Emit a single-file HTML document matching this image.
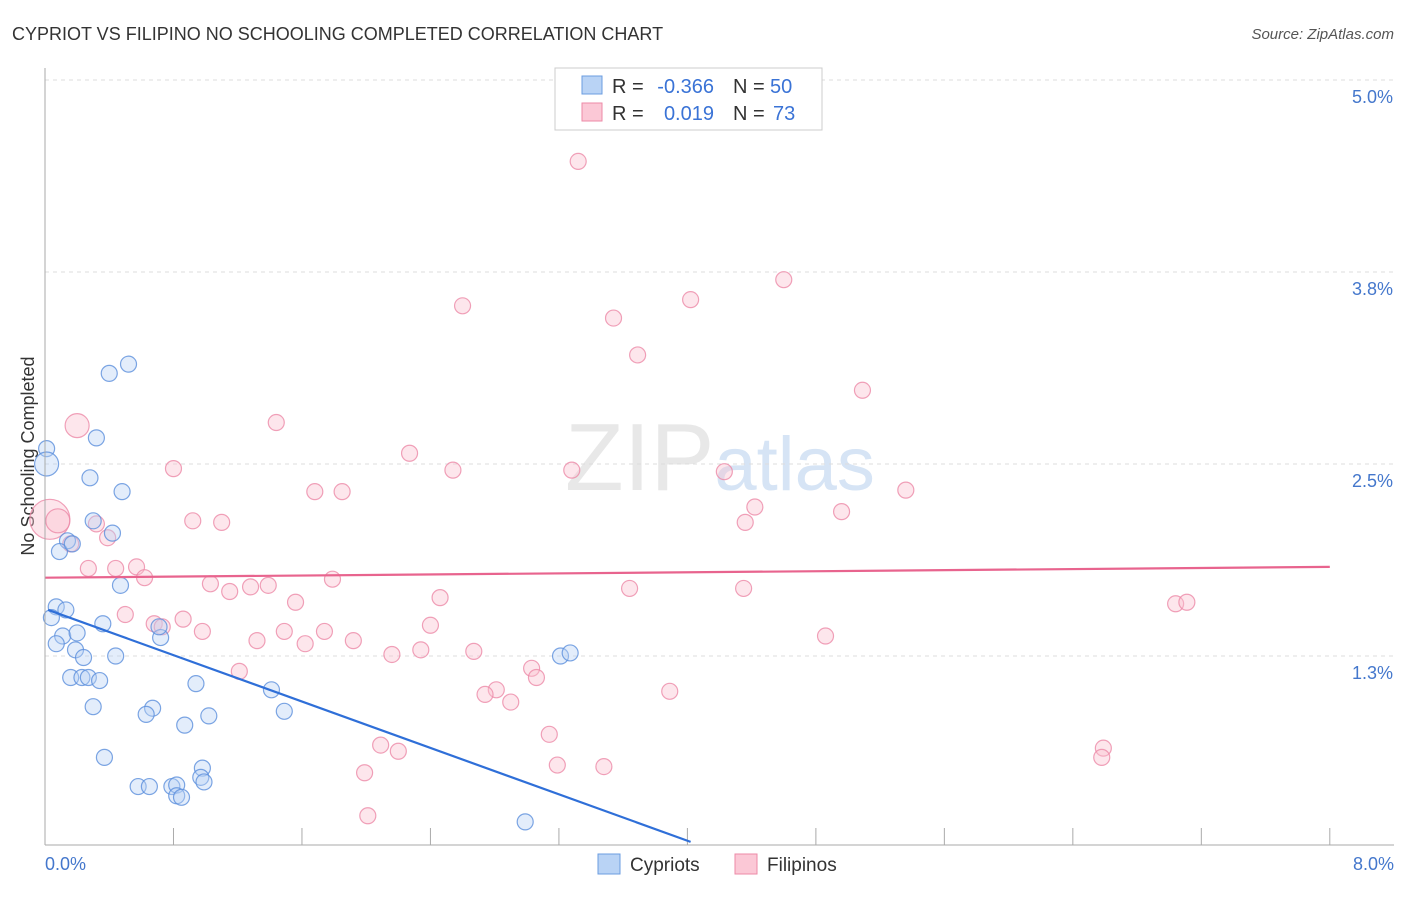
<!DOCTYPE html>
<html><head><meta charset="utf-8"><style>
body{margin:0;background:#fff;font-family:"Liberation Sans",sans-serif;}
svg text{font-family:"Liberation Sans",sans-serif;}
</style></head><body>
<svg id="chart" width="1406" height="892">
<text x="12" y="40" font-size="18" fill="#333">CYPRIOT VS FILIPINO NO SCHOOLING COMPLETED CORRELATION CHART</text>
<text x="1394" y="39" font-size="15" fill="#555" text-anchor="end" font-style="italic">Source: ZipAtlas.com</text>
<text x="34" y="456" font-size="18" fill="#333" text-anchor="middle" transform="rotate(-90 34 456)">No Schooling Completed</text>
<text x="720" y="490" font-size="96" fill="#e8e8e8" text-anchor="middle" font-family="Liberation Serif">ZIP<tspan fill="#d6e4f5" font-family="Liberation Sans" font-size="76">atlas</tspan></text>
<g id="grid"></g><g id="pts"></g><g id="lines"></g>
<line x1="45" y1="68" x2="45" y2="845" stroke="#aaa"/>
<line x1="45" y1="845" x2="1394" y2="845" stroke="#aaa"/>
<text x="45" y="870" font-size="18" fill="#4477cc">0.0%</text>
<text x="1394" y="870" font-size="18" fill="#4477cc" text-anchor="end">8.0%</text>
<g font-size="20">
<rect x="555" y="68" width="267" height="62" fill="#fff" stroke="#ccc"/>
<rect x="582" y="76" width="20" height="18" fill="#b9d3f5" stroke="#6b9de0"/>
<rect x="582" y="103" width="20" height="18" fill="#fbc8d6" stroke="#ec8aa7"/>
<text x="612" y="93" fill="#333">R =</text>
<text x="714" y="93" fill="#3a73d6" text-anchor="end">-0.366</text>
<text x="733" y="93" fill="#333">N =</text>
<text x="770" y="93" fill="#3a73d6">50</text>
<text x="612" y="120" fill="#333">R =</text>
<text x="714" y="120" fill="#3a73d6" text-anchor="end">0.019</text>
<text x="733" y="120" fill="#333">N =</text>
<text x="773" y="120" fill="#3a73d6">73</text>
</g>
<g>
<rect x="598" y="854" width="22" height="20" fill="#b9d3f5" stroke="#6b9de0"/>
<text x="630" y="871" font-size="19" fill="#333">Cypriots</text>
<rect x="735" y="854" width="22" height="20" fill="#fbc8d6" stroke="#ec8aa7"/>
<text x="767" y="871" font-size="19" fill="#333">Filipinos</text>
</g>
</svg>
<script>
const yTicks=[5.0,3.75,2.5,1.25];
const yTickLabels=["5.0%","3.8%","2.5%","1.3%"];
const cyX=[0.01,0.01,0.40,0.52,0.32,0.28,0.48,0.30,0.42,0.14,0.09,0.17,0.47,0.07,0.13,0.04,0.11,0.20,0.07,0.36,0.19,0.24,0.44,0.16,0.23,0.27,0.34,0.94,1.41,0.30,0.67,0.63,1.02,0.87,1.49,0.37,0.98,0.97,0.58,0.65,0.79,0.82,0.99,0.82,0.85,0.72,0.71,3.21,3.27,2.99];
const cyY=[2.60,2.50,3.09,3.15,2.67,2.41,2.32,2.13,2.05,2.00,1.93,1.98,1.71,1.57,1.55,1.50,1.38,1.40,1.33,1.46,1.29,1.24,1.25,1.11,1.11,1.11,1.09,1.07,1.03,0.92,0.91,0.87,0.86,0.80,0.89,0.59,0.52,0.46,0.40,0.40,0.40,0.41,0.43,0.34,0.33,1.37,1.44,1.25,1.27,0.17];
const cySize=[8,12,8,8,8,8,8,8,8,8,8,8,8,8,8,8,8,8,8,8,8,8,8,8,8,8,8,8,8,8,8,8,8,8,8,8,8,8,8,8,8,8,8,8,8,8,8,8,8,8];
const fiX=[3.32,4.60,4.02,2.60,3.54,3.69,5.09,1.44,0.20,2.27,0.80,2.54,3.28,4.23,1.68,1.85,5.36,4.42,4.96,4.36,0.92,1.10,0.32,0.03,0.08,0.39,0.16,0.27,0.57,0.44,0.62,1.79,1.03,1.15,1.28,1.39,3.64,4.35,2.46,1.56,7.04,7.11,0.50,0.86,0.68,0.73,0.98,1.49,1.74,2.40,1.32,1.62,1.92,2.16,2.34,2.67,4.86,1.21,3.03,3.06,2.81,2.74,2.90,3.89,3.14,2.09,2.20,6.59,6.58,3.19,3.48,1.99,2.01];
const fiY=[4.47,3.70,3.57,3.53,3.45,3.21,2.98,2.77,2.75,2.57,2.47,2.46,2.46,2.45,2.32,2.32,2.33,2.22,2.19,2.12,2.13,2.12,2.11,2.14,2.13,2.02,1.98,1.82,1.83,1.82,1.76,1.75,1.72,1.67,1.70,1.71,1.69,1.69,1.63,1.60,1.59,1.60,1.52,1.49,1.46,1.44,1.41,1.41,1.41,1.45,1.35,1.33,1.35,1.26,1.29,1.28,1.38,1.15,1.17,1.11,1.03,1.00,0.95,1.02,0.74,0.67,0.63,0.65,0.59,0.54,0.53,0.49,0.21];
const fiSize=[8,8,8,8,8,8,8,8,12,8,8,8,8,8,8,8,8,8,8,8,8,8,8,20,12,8,8,8,8,8,8,8,8,8,8,8,8,8,8,8,8,8,8,8,8,8,8,8,8,8,8,8,8,8,8,8,8,8,8,8,8,8,8,8,8,8,8,8,8,8,8,8,8];
const cyTrend=[0.02,1.55,4.02,0.04];
const fiTrend=[0,1.76,8,1.83];
const xS=v=>45+v*160.6, yS=v=>80+(5-v)*153.6;
const NS="http://www.w3.org/2000/svg";
const grid=document.getElementById('grid'),pts=document.getElementById('pts'),lines=document.getElementById('lines');
yTicks.forEach((t,i)=>{
 const l=document.createElementNS(NS,'line');
 
 
 l.setAttribute('x1',45);l.setAttribute('x2',1394);l.setAttribute('y1',yS(t));l.setAttribute('y2',yS(t));
 l.setAttribute('stroke','#ddd');l.setAttribute('stroke-dasharray','4 4');grid.appendChild(l);
 const tx=document.createElementNS(NS,'text');
 
 
 tx.setAttribute('x',1393);tx.setAttribute('y',yS(t)+23);tx.setAttribute('text-anchor','end');
 tx.setAttribute('font-size','18');tx.setAttribute('fill','#4477cc');tx.textContent=yTickLabels[i];grid.appendChild(tx);
});
for(let i=0;i<=10;i++){
 const l=document.createElementNS(NS,'line');
 
 
 const x=xS(i*0.8);l.setAttribute('x1',x);l.setAttribute('x2',x);l.setAttribute('y1',828);l.setAttribute('y2',845);
 l.setAttribute('stroke','#aaa');grid.appendChild(l);
}
function dots(X,Y,S,fill,stroke,name){
 X.forEach((v,i)=>{
  const c=document.createElementNS(NS,'circle');
  
  
  c.setAttribute('cx',xS(v));c.setAttribute('cy',yS(Y[i]));c.setAttribute('r',S[i]);
  c.setAttribute('fill',fill);c.setAttribute('fill-opacity','0.4');c.setAttribute('stroke',stroke);c.setAttribute('stroke-opacity','0.8');c.setAttribute('stroke-width','1.2');
  pts.appendChild(c);
 });
}
dots(fiX,fiY,fiSize,'#fbc0d0','#ec8aa7','filipino-point');
dots(cyX,cyY,cySize,'#b9d3f5','#5b8fdc','cypriot-point');
function tl(t,col,name){
 const l=document.createElementNS(NS,'line');
 
 
 l.setAttribute('x1',xS(t[0]));l.setAttribute('y1',yS(t[1]));l.setAttribute('x2',xS(t[2]));l.setAttribute('y2',yS(t[3]));
 l.setAttribute('stroke',col);l.setAttribute('stroke-width','2.2');lines.appendChild(l);
}
tl(fiTrend,'#e8648e','filipino-trend-line');
tl(cyTrend,'#2f6fd8','cypriot-trend-line');
</script>
</body></html>
